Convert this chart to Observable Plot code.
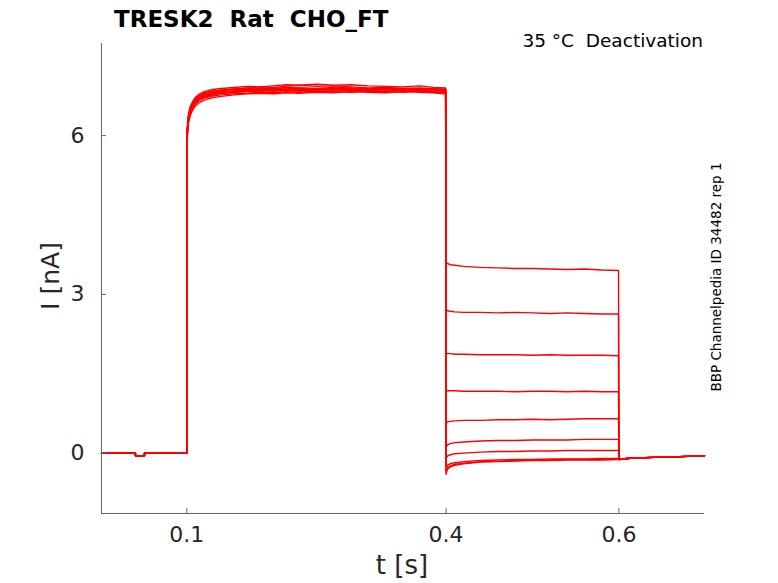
<!DOCTYPE html>
<html>
<head>
<meta charset="utf-8">
<script src="https://cdn.jsdelivr.net/npm/d3@7"></script>
<script src="https://cdn.jsdelivr.net/npm/@observablehq/plot@0.6"></script>
<style>
  html, body { margin: 0; padding: 0; background: #fff; }
  #chart { width: 778px; height: 583px; }
  svg text { font-family: "DejaVu Sans", sans-serif; }
</style>
</head>
<body>
<div id="chart"></div>
<script>
// ---- Data ----
const xTicks = [0.1, 0.4, 0.6];
const yTicks = [0, 3, 6];
const xDomain = [0.0013, 0.699];
const yDomain = [-1.14, 7.74];

// holding period (shared by all sweeps)
const baseT = [0.0013, 0.0405, 0.0406, 0.051, 0.0511, 0.0999];
const baseI = [0, 0, -0.05, -0.05, 0, 0];

// activating pulse 0.1 - 0.4 s
const tAct = [0.1, 0.1003, 0.101, 0.102, 0.104, 0.107, 0.11, 0.114, 0.12, 0.13, 0.14, 0.155, 0.17, 0.185, 0.2, 0.215, 0.23, 0.25, 0.27, 0.29, 0.31, 0.33, 0.35, 0.37, 0.385, 0.3995];
const act1  = [5.6, 5.95, 6.17, 6.33, 6.47, 6.58, 6.64, 6.7, 6.75, 6.79, 6.81, 6.83, 6.85, 6.84, 6.86, 6.87, 6.85, 6.88, 6.86, 6.87, 6.88, 6.86, 6.87, 6.85, 6.86, 6.84];
const act2  = [5.7, 6.0, 6.22, 6.38, 6.52, 6.62, 6.69, 6.75, 6.8, 6.84, 6.86, 6.88, 6.9, 6.92, 6.91, 6.93, 6.95, 6.93, 6.94, 6.92, 6.9, 6.91, 6.89, 6.9, 6.88, 6.87];
const act3  = [5.55, 5.9, 6.12, 6.28, 6.42, 6.53, 6.6, 6.66, 6.71, 6.75, 6.77, 6.79, 6.8, 6.82, 6.81, 6.83, 6.82, 6.84, 6.83, 6.82, 6.84, 6.83, 6.82, 6.84, 6.82, 6.8];
const act4  = [5.65, 5.98, 6.2, 6.36, 6.5, 6.61, 6.68, 6.74, 6.79, 6.83, 6.85, 6.87, 6.88, 6.87, 6.89, 6.88, 6.9, 6.88, 6.87, 6.89, 6.87, 6.88, 6.86, 6.87, 6.85, 6.86];
const act5  = [5.6, 5.93, 6.15, 6.31, 6.45, 6.56, 6.63, 6.69, 6.74, 6.78, 6.8, 6.82, 6.84, 6.85, 6.84, 6.86, 6.85, 6.86, 6.88, 6.86, 6.85, 6.87, 6.85, 6.84, 6.86, 6.83];
const act6  = [5.75, 6.05, 6.26, 6.41, 6.55, 6.65, 6.72, 6.78, 6.83, 6.87, 6.89, 6.91, 6.93, 6.92, 6.94, 6.96, 6.95, 6.97, 6.95, 6.96, 6.94, 6.93, 6.92, 6.94, 6.91, 6.9];
const act7  = [5.5, 5.85, 6.08, 6.24, 6.38, 6.49, 6.56, 6.62, 6.67, 6.72, 6.74, 6.77, 6.79, 6.8, 6.79, 6.81, 6.8, 6.82, 6.81, 6.83, 6.82, 6.81, 6.83, 6.82, 6.81, 6.79];
const act8  = [5.62, 5.96, 6.18, 6.34, 6.48, 6.59, 6.66, 6.72, 6.77, 6.81, 6.83, 6.85, 6.86, 6.88, 6.87, 6.86, 6.88, 6.87, 6.89, 6.88, 6.86, 6.88, 6.87, 6.85, 6.87, 6.85];
const act9  = [5.58, 5.92, 6.14, 6.3, 6.44, 6.55, 6.62, 6.68, 6.73, 6.77, 6.8, 6.82, 6.83, 6.85, 6.84, 6.85, 6.84, 6.85, 6.84, 6.86, 6.85, 6.84, 6.86, 6.84, 6.83, 6.82];
const act10 = [5.68, 6.0, 6.21, 6.37, 6.51, 6.62, 6.69, 6.75, 6.8, 6.84, 6.86, 6.88, 6.89, 6.9, 6.89, 6.91, 6.9, 6.89, 6.91, 6.9, 6.88, 6.9, 6.89, 6.88, 6.89, 6.87];

// deactivation steps 0.4 - 0.6 s
const tDeact = [0.4, 0.4005, 0.402, 0.405, 0.41, 0.42, 0.44, 0.46, 0.48, 0.5, 0.52, 0.54, 0.56, 0.58, 0.5995];
const deact1  = [3.62, 3.6, 3.58, 3.56, 3.55, 3.53, 3.51, 3.5, 3.49, 3.49, 3.48, 3.47, 3.48, 3.46, 3.45];
const deact2  = [2.72, 2.7, 2.69, 2.68, 2.67, 2.66, 2.66, 2.65, 2.66, 2.65, 2.64, 2.65, 2.64, 2.63, 2.63];
const deact3  = [1.9, 1.89, 1.88, 1.88, 1.87, 1.87, 1.86, 1.86, 1.86, 1.85, 1.86, 1.85, 1.85, 1.85, 1.84];
const deact4  = [1.19, 1.18, 1.18, 1.18, 1.18, 1.17, 1.17, 1.17, 1.16, 1.17, 1.17, 1.16, 1.17, 1.16, 1.16];
const deact5  = [0.55, 0.57, 0.59, 0.6, 0.61, 0.62, 0.62, 0.63, 0.63, 0.64, 0.63, 0.64, 0.65, 0.65, 0.65];
const deact6  = [0.1, 0.13, 0.16, 0.18, 0.2, 0.21, 0.23, 0.24, 0.24, 0.25, 0.25, 0.25, 0.26, 0.26, 0.26];
const deact7  = [-0.12, -0.08, -0.05, -0.03, -0.01, 0.0, 0.02, 0.03, 0.03, 0.04, 0.04, 0.05, 0.05, 0.05, 0.05];
const deact8  = [-0.3, -0.26, -0.22, -0.2, -0.18, -0.16, -0.14, -0.13, -0.12, -0.12, -0.11, -0.11, -0.11, -0.1, -0.1];
const deact9  = [-0.36, -0.31, -0.27, -0.24, -0.21, -0.19, -0.16, -0.15, -0.14, -0.13, -0.13, -0.12, -0.12, -0.12, -0.11];
const deact10 = [-0.4, -0.35, -0.3, -0.26, -0.23, -0.2, -0.17, -0.16, -0.15, -0.14, -0.14, -0.13, -0.13, -0.13, -0.12];

// return to holding 0.6 - 0.7 s
const tTail = [0.6, 0.6005, 0.603, 0.61, 0.62, 0.64, 0.66, 0.68, 0.699];
const tailI = [-0.1, -0.12, -0.11, -0.1, -0.09, -0.08, -0.07, -0.06, -0.05];

const actSweeps = [act1, act2, act3, act4, act5, act6, act7, act8, act9, act10];
const deactSweeps = [deact1, deact2, deact3, deact4, deact5, deact6, deact7, deact8, deact9, deact10];

// ---- Build table ----
const rows = [];
actSweeps.forEach((act, k) => {
  baseT.forEach((t, i) => rows.push({t, I: baseI[i], sweep: k}));
  tAct.forEach((t, i) => rows.push({t, I: act[i], sweep: k}));
  tDeact.forEach((t, i) => rows.push({t, I: deactSweeps[k][i], sweep: k}));
  tTail.forEach((t, i) => rows.push({t, I: tailI[i], sweep: k}));
});

const axisColor = "#666666";
const labelColor = "#262626";

const plot = Plot.plot({
  width: 778,
  height: 583,
  marginLeft: 101,
  marginRight: 74,
  marginTop: 43,
  marginBottom: 70,
  style: {fontFamily: "DejaVu Sans, sans-serif", background: "#fff", overflow: "visible"},
  x: {domain: xDomain, label: null},
  y: {domain: yDomain, label: null},
  marks: [
    Plot.line(rows, {x: "t", y: "I", z: "sweep", stroke: "#ff0000", strokeWidth: 1.4, curve: "linear"}),
    Plot.ruleX([xDomain[0]], {stroke: axisColor, strokeWidth: 1}),
    Plot.ruleY([yDomain[0]], {stroke: axisColor, strokeWidth: 1}),
    Plot.axisX({ticks: xTicks, tickFormat: d => String(d), tickSize: -5, tickPadding: 17.5, fontSize: 22, color: labelColor, stroke: axisColor, label: null}),
    Plot.axisY({ticks: yTicks, tickFormat: d => String(d), tickSize: -5, tickPadding: 22, fontSize: 22, color: labelColor, stroke: axisColor, label: null})
  ]
});

document.getElementById("chart").appendChild(plot);

const svg = d3.select(plot);
svg.append("text")
  .attr("x", 114).attr("y", 27).attr("text-anchor", "start")
  .attr("font-size", 23).attr("font-weight", "bold").attr("fill", "#000")
  .style("white-space", "pre")
  .text("TRESK2  Rat  CHO_FT");
svg.append("text")
  .attr("x", 703).attr("y", 47).attr("text-anchor", "end")
  .attr("font-size", 18.5).attr("fill", "#000")
  .style("white-space", "pre")
  .text("35 °C  Deactivation");
svg.append("text")
  .attr("x", 402).attr("y", 574).attr("text-anchor", "middle")
  .attr("font-size", 26).attr("fill", labelColor)
  .text("t [s]");
svg.append("text")
  .attr("transform", "translate(59,276) rotate(-90)").attr("text-anchor", "middle")
  .attr("font-size", 25).attr("fill", labelColor)
  .text("I [nA]");
svg.append("text")
  .attr("transform", "translate(721,277) rotate(-90)").attr("text-anchor", "middle")
  .attr("font-size", 13.5).attr("fill", "#000")
  .text("BBP Channelpedia ID 34482 rep 1");
</script>
</body>
</html>
